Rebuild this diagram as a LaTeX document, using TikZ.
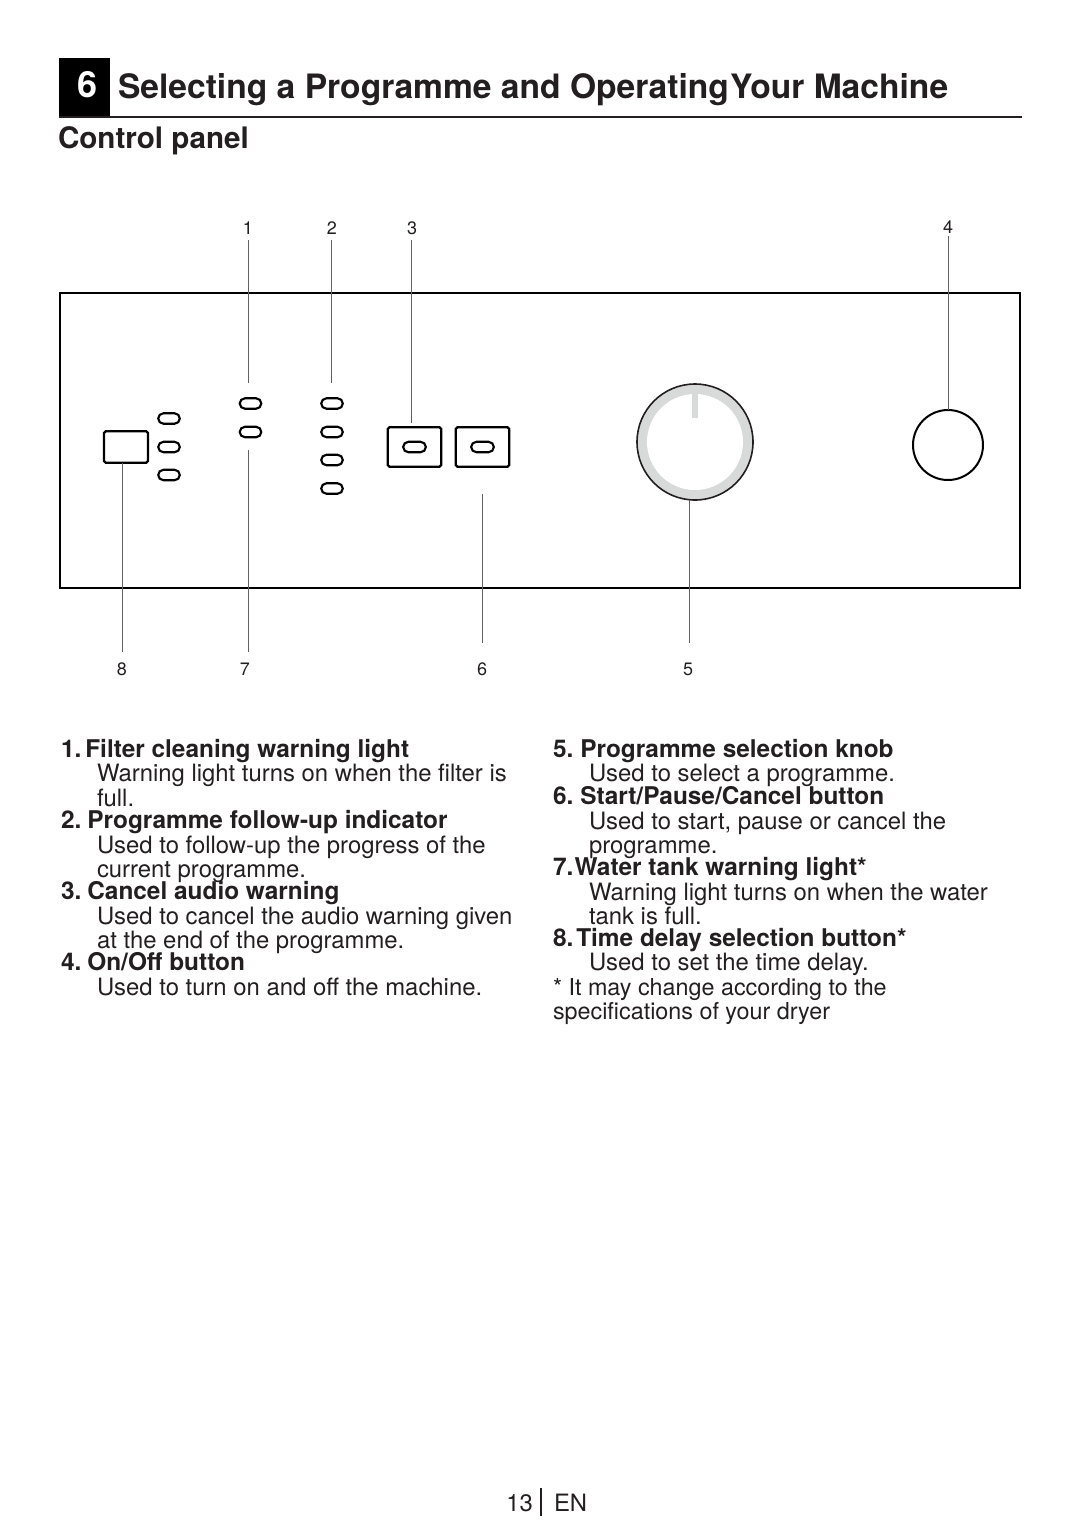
\documentclass[tikz,border=0pt]{standalone}
\usepackage{fontspec}
\setmainfont{TeX Gyre Heros}
\usepackage{tikz}
\usepackage{xcolor}
\definecolor{inkblack}{HTML}{231F20}
\definecolor{ringgrey}{HTML}{D8DADA}
\definecolor{leadergrey}{HTML}{666064}

\begin{document}
\begin{tikzpicture}[
    x=0.75pt, y=-0.75pt,
    every node/.style={inner sep=0pt, outer sep=0pt, text=inkblack},
    headtext/.style={anchor=base west, font=\fontsize{25.2pt}{30pt}\selectfont\bfseries},
    subtext/.style={anchor=base west, font=\fontsize{22.2pt}{26pt}\selectfont\bfseries},
    itemhead/.style={anchor=base west, font=\fontsize{18.3pt}{20pt}\selectfont\bfseries},
    itembody/.style={anchor=base west, font=\fontsize{17.9pt}{20pt}\selectfont},
    numtext/.style={font=\fontsize{13.5pt}{15pt}\selectfont},
    led/.style={draw=black, line width=1.6pt, rounded corners=3.9pt, minimum width=16.2pt, minimum height=7.8pt},
    btn/.style={draw=black, line width=1.7pt, rounded corners=1.2pt, minimum width=40pt, minimum height=29.5pt},
    leader/.style={draw=leadergrey, line width=0.7pt}
]
  \useasboundingbox (0,0) rectangle (1080,1532);

  % Heading
  \node[fill=black, minimum width=38.25pt, minimum height=43.5pt, anchor=north west] (badge) at (59,58) {};
  \node[text=white, font=\fontsize{27pt}{30pt}\selectfont\bfseries] (badgenum) at (87.5,85) {6};
  \node[headtext] (title) at (118,98) {Selecting a Programme and Operating\hspace{1pt}Your Machine};
  \coordinate (ruleL) at (59,117);
  \coordinate (ruleR) at (1022,117);
  \draw[line width=1.9pt, draw=inkblack] (ruleL)--(ruleR);
  \node[subtext] (subtitle) at (58,148) {Control panel};

  % Panel outline
  \node[draw=black, line width=1.5pt, minimum width=720pt, minimum height=221.25pt, anchor=north west] (panel) at (60,293) {};

  % Lights, left group
  \node[btn, minimum width=33pt, minimum height=23.5pt] (delay) at (126,447) {};
  \node[led] (a1) at (169,418.5) {};
  \node[led] (a2) at (169,447) {};
  \node[led] (a3) at (169,475) {};

  % Lights, middle columns
  \node[led] (b1) at (250.5,403.5) {};
  \node[led] (b2) at (250.5,432) {};
  \node[led] (c1) at (332,403.5) {};
  \node[led] (c2) at (332,432) {};
  \node[led] (c3) at (332,460) {};
  \node[led] (c4) at (332,488.5) {};

  % Push buttons
  \node[btn] (audio) at (414.5,447) {};
  \node[btn] (start) at (482.5,447) {};
  \node[led, minimum width=17pt] (audiolight) at (414.5,447) {};
  \node[led, minimum width=17pt] (startlight) at (482.5,447) {};

  % Knob and on/off button
  \node[circle, fill=ringgrey, draw=inkblack, line width=1.2pt, minimum size=87pt] (knob) at (695,442) {};
  \node[circle, fill=white, minimum size=72pt] (knobface) at (695,442) {};
  \node[fill=ringgrey, minimum width=4.5pt, minimum height=19pt, anchor=north] (knobmark) at (695,393) {};
  \node[circle, draw=black, line width=1.5pt, minimum size=52.5pt] (onoff) at (948,445) {};

  % Number labels (top row)
  \node[numtext] (n1) at (248,228) {1};
  \node[numtext] (n2) at (332,228) {2};
  \node[numtext] (n3) at (412,228) {3};
  \node[numtext] (n4) at (948,227) {4};

  % Number labels (bottom row)
  \node[numtext] (n8) at (122,669) {8};
  \node[numtext] (n7) at (245,669) {7};
  \node[numtext] (n6) at (482,669) {6};
  \node[numtext] (n5) at (688,669) {5};

  % Leader ends
  \coordinate (e1a) at (248,240);
  \coordinate (e1b) at (248,383);
  \coordinate (e2a) at (331,240);
  \coordinate (e2b) at (331,383);
  \coordinate (e3a) at (411,240);
  \coordinate (e3b) at (411,423);
  \coordinate (e4a) at (948,236);
  \coordinate (e4b) at (948,410);
  \coordinate (e5a) at (689,500);
  \coordinate (e5b) at (689,643);
  \coordinate (e6a) at (482,494);
  \coordinate (e6b) at (482,643);
  \coordinate (e7a) at (248,450);
  \coordinate (e7b) at (248,652);
  \coordinate (e8a) at (122,463);
  \coordinate (e8b) at (122,652);

  % Leaders
  \draw[leader] (e1a)--(e1b);
  \draw[leader] (e2a)--(e2b);
  \draw[leader] (e3a)--(e3b);
  \draw[leader] (e4a)--(e4b);
  \draw[leader] (e5a)--(e5b);
  \draw[leader] (e6a)--(e6b);
  \draw[leader] (e7a)--(e7b);
  \draw[leader] (e8a)--(e8b);

  % Left column
  \node[itemhead] (h1) at (61,757) {1.\hspace{3pt}Filter cleaning warning light};
  \node[itembody] (t1a) at (97,781) {Warning light turns on when the filter is};
  \node[itembody] (t1b) at (97,806) {full.};
  \node[itemhead] (h2) at (61,828) {2.\hspace{4.5pt}Programme follow-up indicator};
  \node[itembody] (t2a) at (97,853) {Used to follow-up the progress of the};
  \node[itembody] (t2b) at (97,877) {current programme.};
  \node[itemhead] (h3) at (61,899) {3.\hspace{4.5pt}Cancel audio warning};
  \node[itembody] (t3a) at (97,924) {Used to cancel the audio warning given};
  \node[itembody] (t3b) at (97,948) {at the end of the programme.};
  \node[itemhead] (h4) at (61,970) {4.\hspace{4.5pt}On/Off button};
  \node[itembody] (t4a) at (97,995) {Used to turn on and off the machine.};

  % Right column
  \node[itemhead] (h5) at (553,757) {5.\hspace{5.2pt}Programme selection knob};
  \node[itembody] (t5a) at (589,781) {Used to select a programme.};
  \node[itemhead] (h6) at (553,804) {6.\hspace{5.2pt}Start/Pause/Cancel button};
  \node[itembody] (t6a) at (589,829) {Used to start, pause or cancel the};
  \node[itembody] (t6b) at (589,853) {programme.};
  \node[itemhead] (h7) at (553,875) {7.\hspace{1pt}Water tank warning light*};
  \node[itembody] (t7a) at (589,900) {Warning light turns on when the water};
  \node[itembody] (t7b) at (589,924) {tank is full.};
  \node[itemhead] (h8) at (553,946) {8.\hspace{2.2pt}Time delay selection button*};
  \node[itembody] (t8a) at (589,970) {Used to set the time delay.};
  \node[itembody, font=\fontsize{17.5pt}{20pt}\selectfont] (f1) at (553,995) {* It may change according to the};
  \node[itembody, font=\fontsize{17.5pt}{20pt}\selectfont] (f2) at (553,1019) {specifications of your dryer};

  % Page number
  \node[itembody, anchor=base east] (pagenum) at (533,1511) {13};
  \node[itembody] (pagelang) at (554,1511) {EN};
  \coordinate (barT) at (541,1488);
  \coordinate (barB) at (541,1516);
  \draw[line width=1.1pt, draw=inkblack] (barT)--(barB);
\end{tikzpicture}
\end{document}
